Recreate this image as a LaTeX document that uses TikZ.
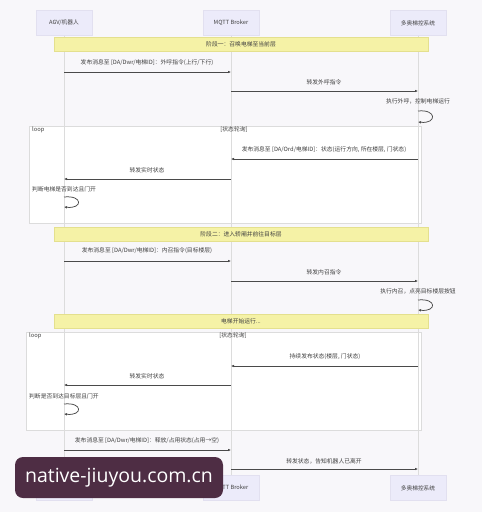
\documentclass[tikz,border=0pt]{standalone}
\usepackage{fontspec}
\setmainfont{Noto Sans CJK SC}
\newfontfamily\wmfont{Open Sans}
\usetikzlibrary{arrows.meta}
\definecolor{bg}{HTML}{F8F7FA}
\definecolor{partfill}{HTML}{ECEBFA}
\definecolor{partdraw}{HTML}{E2E0F0}
\definecolor{notefill}{HTML}{F5F2A6}
\definecolor{notedraw}{HTML}{E4E08E}
\definecolor{lifec}{HTML}{DCDCDC}
\definecolor{msgc}{HTML}{4A4A4A}
\definecolor{txtc}{HTML}{404040}
\definecolor{wmc}{HTML}{4E2D44}
\tikzset{
  x=1pt, y=-1pt,
  part/.style={draw=partdraw, fill=partfill, minimum width=56pt, minimum height=25pt, inner sep=0pt, font=\fontsize{5.7}{6}\selectfont, text=txtc},
  notebox/.style={draw=notedraw, fill=notefill, minimum width=374pt, minimum height=14pt, inner sep=0pt, font=\fontsize{5.8}{6}\selectfont, text=txtc},
  msg/.style={draw=msgc, line width=0.75pt, -{Latex[length=3pt,width=2.6pt]}},
  lbl/.style={font=\fontsize{5.8}{6}\selectfont, text=txtc, inner sep=0pt},
  life/.style={draw=lifec, line width=0.7pt},
  loopframe/.style={draw=lifec, fill=white, line width=0.6pt},
}
\begin{document}
\begin{tikzpicture}
\fill[bg] (0,0) rectangle (482,512);
\useasboundingbox (0,0) rectangle (482,512);

% loop frames
\draw[loopframe] (29,126) rectangle (421,223);
\draw[loopframe] (26,332) rectangle (421,430);

% participants
\node[part] (aT) at (64,23) {AGV/机器人};
\node[part] (bT) at (231,23) {MQTT Broker};
\node[part] (cT) at (418,23) {多奥梯控系统};
\node[part] (aB) at (64,488) {AGV/机器人};
\node[part] (bB) at (231,488) {MQTT Broker};
\node[part] (cB) at (418,488) {多奥梯控系统};
\draw[life] (aT) -- (aB);
\draw[life] (bT) -- (bB);
\draw[life] (cT) -- (cB);

% loop labels
\node[lbl, anchor=west] (l1) at (32,130) {loop};
\node[lbl] (l1c) at (234,130) {[状态轮询]};
\node[lbl, anchor=west] (l2) at (29,336) {loop};
\node[lbl] (l2c) at (233,336) {[状态轮询]};

% notes
\node[notebox] (n1) at (241,44.5) {阶段一：召唤电梯至当前层};
\node[notebox] (n2) at (241,234.5) {阶段二：进入轿厢并前往目标层};
\node[notebox] (n3) at (241,321) {电梯开始运行...};

% message endpoints
\foreach \n/\x/\y in {m1a/64/72, m1b/231/72, m2a/231/91, m2b/418/91,
  m4a/418/159, m4b/231/159, m5a/231/179, m5b/64/179,
  m7a/64/261, m7b/231/261, m8a/231/281, m8b/418/281,
  m10a/418/366, m10b/231/366, m11a/231/385, m11b/64/385,
  m13a/64/450, m13b/231/450, m14a/231/469, m14b/418/469,
  s3a/418/111, s3b/418/122, s6a/64/197, s6b/64/207,
  s9a/418/300, s9b/418/310, s12a/64/404, s12b/64/414}
  {\coordinate (\n) at (\x,\y);}

\node[lbl] (t1) at (147,63) {发布消息至 [DA/Dwr/电梯ID]：外呼指令(上行/下行)};
\draw[msg] (m1a) -- (m1b);
\node[lbl] (t2) at (324,82) {转发外呼指令};
\draw[msg] (m2a) -- (m2b);
\node[lbl] (t3) at (418,101) {执行外呼，控制电梯运行};
\draw[msg] (s3a) .. controls (437,109) and (437,124) .. (s3b);
\node[lbl] (t4) at (324,150) {发布消息至 [DA/Ord/电梯ID]：状态(运行方向, 所在楼层, 门状态)};
\draw[msg] (m4a) -- (m4b);
\node[lbl] (t5) at (147,170) {转发实时状态};
\draw[msg] (m5a) -- (m5b);
\node[lbl, anchor=west] (t6) at (32,189) {判断电梯是否到达且门开};
\draw[msg] (s6a) .. controls (83,195) and (83,209) .. (s6b);

\node[lbl] (t7) at (147,251) {发布消息至 [DA/Dwr/电梯ID]：内召指令(目标楼层)};
\draw[msg] (m7a) -- (m7b);
\node[lbl] (t8) at (324,272) {转发内召指令};
\draw[msg] (m8a) -- (m8b);
\node[lbl] (t9) at (418,291) {执行内召，点亮目标楼层按钮};
\draw[msg] (s9a) .. controls (437,298) and (437,312) .. (s9b);

\node[lbl] (t10) at (325,357) {持续发布状态(楼层, 门状态)};
\draw[msg] (m10a) -- (m10b);
\node[lbl] (t11) at (147,376) {转发实时状态};
\draw[msg] (m11a) -- (m11b);
\node[lbl, anchor=west] (t12) at (29,396) {判断是否到达目标层且门开};
\draw[msg] (s12a) .. controls (83,402) and (83,416) .. (s12b);

\node[lbl] (t13) at (147,441) {发布消息至 [DA/Dwr/电梯ID]：释放/占用状态(占用→空)};
\draw[msg] (m13a) -- (m13b);
\node[lbl] (t14) at (324,461) {转发状态，告知机器人已离开};
\draw[msg] (m14a) -- (m14b);

% watermark badge
\node[fill=wmc, rounded corners=8pt, minimum width=208pt, minimum height=41pt, inner sep=0pt, text=white, font=\wmfont\fontsize{19.5}{21}\selectfont] (wm) at (119,477.5) {native-jiuyou.com.cn};
\end{tikzpicture}
\end{document}
